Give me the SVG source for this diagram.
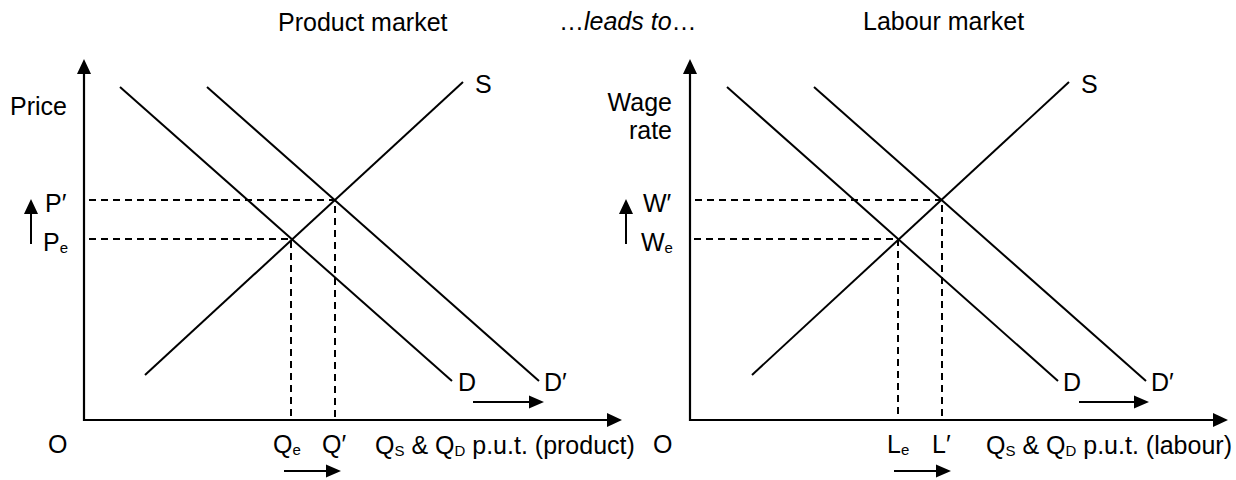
<svg xmlns="http://www.w3.org/2000/svg" width="1236" height="480" viewBox="0 0 1236 480">
<style>
text{font-family:"Liberation Sans",Arial,sans-serif;font-size:25px;fill:#000}
.sub{font-size:15px}
.it{font-style:italic}
.ax{stroke:#000;stroke-width:2.2;fill:none}
.cv{stroke:#000;stroke-width:2;fill:none}
.ds{stroke:#000;stroke-width:2;fill:none;stroke-dasharray:7 5}
.ar{stroke:#000;stroke-width:2;fill:none}
</style>
<g id="titles">
<text x="278" y="31">Product market</text>
<text x="559" y="30">…<tspan class="it">leads to</tspan>…</text>
<text x="863" y="30">Labour market</text>
</g>
<g id="connectors">
<path class="ax" d="M84,72 L84,420 L608,420"/>
<path d="M84,59 L77,74 L91,74 Z"/>
<path d="M622,420 L607,413 L607,427 Z"/>
<line class="cv" x1="120" y1="87" x2="452" y2="381"/>
<line class="cv" x1="207" y1="87" x2="539" y2="381"/>
<line class="cv" x1="145" y1="375" x2="463" y2="82"/>
<path class="ds" d="M89,200 H335 V420"/>
<path class="ds" d="M89,239 H291 V420"/>
<line class="ar" x1="31" y1="244" x2="31" y2="212"/>
<path d="M31,199 L24,214 L38,214 Z"/>
<line class="ar" x1="284" y1="471" x2="327" y2="471"/>
<path d="M341,471 L326,464.5 L326,477.5 Z"/>
<line class="ar" x1="473" y1="402" x2="530" y2="402"/>
<path d="M544,402 L529,395.5 L529,408.5 Z"/>
<path class="ax" d="M690,72 L690,420 L1213,420"/>
<path d="M690,59 L683,74 L697,74 Z"/>
<path d="M1228,420 L1213,413 L1213,427 Z"/>
<line class="cv" x1="727" y1="87" x2="1058" y2="381"/>
<line class="cv" x1="814" y1="87" x2="1146" y2="381"/>
<line class="cv" x1="752" y1="375" x2="1069" y2="82"/>
<path class="ds" d="M695,200 H942 V420"/>
<path class="ds" d="M694,239 H898 V420"/>
<line class="ar" x1="626" y1="244" x2="626" y2="212"/>
<path d="M626,199 L619,214 L633,214 Z"/>
<line class="ar" x1="894" y1="471" x2="937" y2="471"/>
<path d="M951,471 L936,464.5 L936,477.5 Z"/>
<line class="ar" x1="1079" y1="402" x2="1135" y2="402"/>
<path d="M1149,402 L1134,395.5 L1134,408.5 Z"/>
</g>
<g id="product-market">
<text x="10" y="115">Price</text>
<text x="45" y="212">P′</text>
<text x="43" y="251">P<tspan class="sub" dy="2">e</tspan></text>
<text x="48" y="453">O</text>
<text x="273" y="453">Q<tspan class="sub" dy="2">e</tspan></text>
<text x="322" y="453">Q′</text>
<text x="375" y="454">Q<tspan class="sub" dy="2">S</tspan><tspan dy="-2"> &amp; Q</tspan><tspan class="sub" dy="2">D</tspan><tspan dy="-2"> p.u.t. (product)</tspan></text>
<text x="458" y="391">D</text>
<text x="544" y="391">D′</text>
<text x="475" y="93">S</text>
</g>
<g id="labour-market">
<text x="672" y="111" text-anchor="end">Wage</text>
<text x="672" y="139" text-anchor="end">rate</text>
<text x="643" y="212">W′</text>
<text x="641" y="251">W<tspan class="sub" dy="2">e</tspan></text>
<text x="653" y="453">O</text>
<text x="887" y="453">L<tspan class="sub" dy="2">e</tspan></text>
<text x="932" y="453">L′</text>
<text x="986" y="454">Q<tspan class="sub" dy="2">S</tspan><tspan dy="-2"> &amp; Q</tspan><tspan class="sub" dy="2">D</tspan><tspan dy="-2"> p.u.t. (labour)</tspan></text>
<text x="1063" y="391">D</text>
<text x="1151" y="391">D′</text>
<text x="1081" y="93">S</text>
</g>
</svg>
